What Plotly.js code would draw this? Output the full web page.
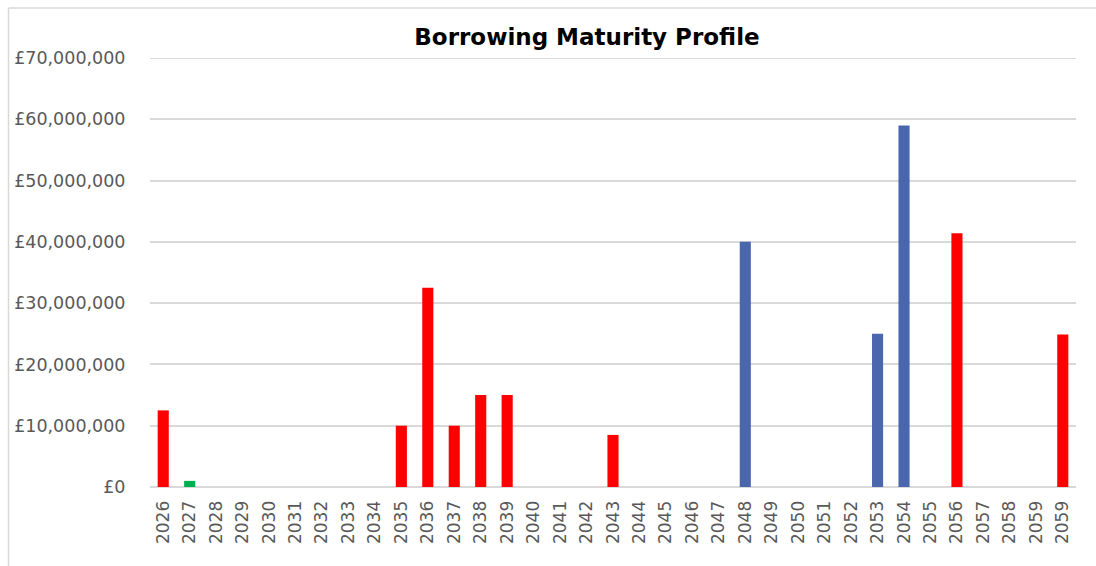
<!DOCTYPE html>
<html>
<head>
<meta charset="utf-8">
<script src="https://cdn.plot.ly/plotly-3.0.1.min.js"></script>
<style>html,body{margin:0;padding:0;background:#fff;}#chart{width:1096px;height:566px;}</style>
</head>
<body>
<div id="chart"></div>
<script>
// Category labels (the source repeats 2059 at the end)
const yearLabels = ["2026","2027","2028","2029","2030","2031","2032","2033","2034","2035","2036","2037","2038","2039","2040","2041","2042","2043","2044","2045","2046","2047","2048","2049","2050","2051","2052","2053","2054","2055","2056","2057","2058","2059","2059"];
// Series values (null = no bar)
const redValues = [12500000,null,null,null,null,null,null,null,null,10000000,32500000,10000000,15000000,15000000,null,null,null,8500000,null,null,null,null,null,null,null,null,null,null,null,null,41400000,null,null,null,24900000];
const blueValues = [null,null,null,null,null,null,null,null,null,null,null,null,null,null,null,null,null,null,null,null,null,null,40000000,null,null,null,null,25000000,59000000,null,null,null,null,null,null];
const greenValues = [null,1000000,null,null,null,null,null,null,null,null,null,null,null,null,null,null,null,null,null,null,null,null,null,null,null,null,null,null,null,null,null,null,null,null,null];
const yTicks = [0,10000000,20000000,30000000,40000000,50000000,60000000,70000000];
const yTickText = yTicks.map(v => '\u00A3' + v.toLocaleString('en-GB'));

const idx = yearLabels.map((_, i) => i);
const M = {l:150, r:20, t:58, b:79};
const W = 1096, H = 566;
const pw = W - M.l - M.r, ph = H - M.t - M.b;
const px = x => (x - M.l) / pw;
const py = y => (H - M.b - y) / ph;

const mk = (vals, color) => ({
  type: 'bar', x: idx, y: vals, width: 0.42,
  marker: {color: color, line: {width: 0}},
  hoverinfo: 'x+y', showlegend: false
});

const data = [mk(redValues, '#FF0000'), mk(blueValues, '#4A66AC'), mk(greenValues, '#00B050')];

const yTickFont = {family: '"DejaVu Sans", Verdana, sans-serif', size: 17.5, color: '#595959'};
const xTickFont = {family: '"DejaVu Sans", Verdana, sans-serif', size: 17, color: '#595959'};

const layout = {
  width: W, height: H,
  margin: M,
  paper_bgcolor: '#fff', plot_bgcolor: '#fff',
  barmode: 'overlay',
  title: {text: '<b>Borrowing Maturity Profile</b>', x: px(587), xref: 'paper', xanchor: 'center', y: 1 - 37/H, yanchor: 'middle', font: {family: '"DejaVu Sans", Verdana, sans-serif', size: 23, color: '#000'}},
  xaxis: {
    range: [-0.5, yearLabels.length - 0.5],
    tickmode: 'array', tickvals: idx, ticktext: yearLabels,
    tickangle: -90, tickfont: xTickFont,
    showgrid: false, showline: false, zeroline: false,
    ticks: 'outside', ticklen: 6, tickcolor: 'rgba(0,0,0,0)'
  },
  yaxis: {
    range: [0, 70000000], tickmode: 'array', tickvals: yTicks, ticktext: yTickText,
    tickfont: yTickFont,
    showgrid: true, gridcolor: '#D9D9D9', gridwidth: 2,
    zeroline: true, zerolinecolor: '#D9D9D9', zerolinewidth: 2.5,
    showline: false, ticks: 'outside', ticklen: 20, tickcolor: 'rgba(0,0,0,0)'
  },
  shapes: [
    {type: 'line', xref: 'paper', yref: 'y', x0: 0, x1: 1, y0: yTicks[yTicks.length - 1], y1: yTicks[yTicks.length - 1], line: {color: '#D9D9D9', width: 2}, layer: 'below'},
    {type: 'line', xref: 'paper', yref: 'paper', x0: px(8.5), x1: px(8.5), y0: py(8), y1: py(600), line: {color: '#D9D9D9', width: 1.5}},
    {type: 'line', xref: 'paper', yref: 'paper', x0: px(8.5), x1: px(1200), y0: py(8), y1: py(8), line: {color: '#D9D9D9', width: 1.5}}
  ],
  annotations: [
    {text: 'Chart 1', xref: 'paper', yref: 'paper', x: px(0), y: py(4), xanchor: 'left', yanchor: 'bottom', showarrow: false, font: {family: '"DejaVu Sans", Verdana, sans-serif', size: 16, color: '#000'}}
  ]
};

Plotly.newPlot('chart', data, layout, {displayModeBar: false, staticPlot: true});
</script>
</body>
</html>
